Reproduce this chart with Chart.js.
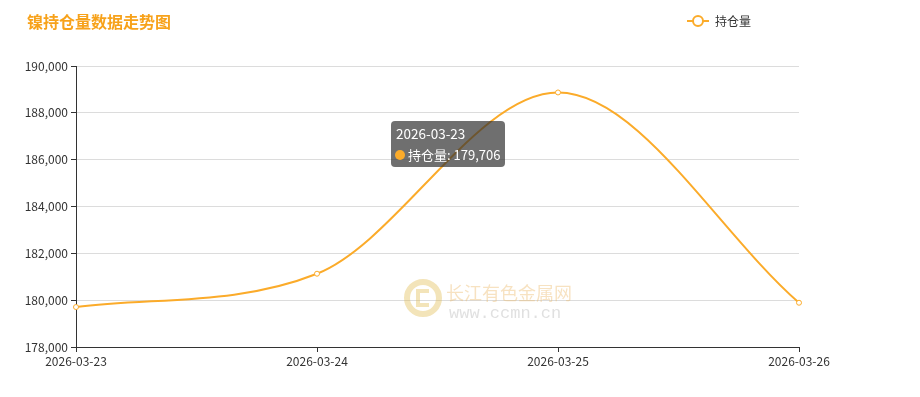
<!DOCTYPE html>
<html><head><meta charset="utf-8">
<script src="https://cdn.jsdelivr.net/npm/chart.js@4"></script>
<style>html,body{margin:0;padding:0;background:#fff}canvas{display:block}</style>
</head><body>
<canvas id="c" width="920" height="397"></canvas>
<script>
const categories = ['2026-03-23','2026-03-24','2026-03-25','2026-03-26'];
const holdings = [179706, 181130, 188870, 179890];
const seriesName = '持仓量';
const titleText = '镍持仓量数据走势图';
const yMin = 178000, yMax = 190000, yStep = 2000;
const tooltipIndex = 0;

const ORANGE = '#fbab2a';
const FONT = '"Noto Sans CJK SC", "Microsoft YaHei", sans-serif';
const fmt = v => v.toLocaleString('en-US');

const overlay = {
  id: 'overlay',
  afterDraw(chart) {
    const ctx = chart.ctx;
    ctx.save();
    // title
    ctx.fillStyle = '#f7a21b';
    ctx.font = 'bold 16px ' + FONT;
    ctx.textBaseline = 'middle';
    ctx.textAlign = 'left';
    ctx.fillText(titleText, 27, 22);
    // legend
    ctx.strokeStyle = ORANGE; ctx.lineWidth = 2;
    ctx.beginPath(); ctx.moveTo(687, 21); ctx.lineTo(709, 21); ctx.stroke();
    ctx.fillStyle = '#fff';
    ctx.beginPath(); ctx.arc(698, 21, 5, 0, Math.PI*2); ctx.fill(); ctx.stroke();
    ctx.fillStyle = '#333'; ctx.font = '12px ' + FONT;
    ctx.fillText(seriesName, 715, 21);
    // watermark
    ctx.globalAlpha = 0.4;
    ctx.strokeStyle = '#e2bc50'; ctx.lineWidth = 6;
    ctx.beginPath(); ctx.arc(423, 298, 16, 0, Math.PI*2); ctx.stroke();
    ctx.lineWidth = 4;
    ctx.beginPath();
    ctx.moveTo(429, 291); ctx.lineTo(418, 291); ctx.lineTo(418, 305); ctx.lineTo(429, 305);
    ctx.stroke();
    ctx.fillStyle = '#eab765'; ctx.font = '18px ' + FONT;
    ctx.fillText('长江有色金属网', 446, 293);
    ctx.globalAlpha = 0.3;
    ctx.fillStyle = '#999'; ctx.font = '17px "Liberation Mono", monospace';
    ctx.fillText('www.ccmn.cn', 449, 313);
    ctx.globalAlpha = 1;
    // tooltip
    const x0 = 391, y0 = 121, w = 114, h = 46;
    ctx.fillStyle = 'rgba(50,50,50,0.7)';
    ctx.beginPath(); ctx.roundRect(x0, y0, w, h, 4); ctx.fill();
    ctx.fillStyle = '#fff'; ctx.font = '13.5px ' + FONT;
    ctx.fillText(categories[tooltipIndex], x0 + 5, y0 + 13);
    ctx.fillStyle = ORANGE;
    ctx.beginPath(); ctx.arc(x0 + 9, y0 + 34, 5, 0, Math.PI*2); ctx.fill();
    ctx.fillStyle = '#fff';
    ctx.font = '13px ' + FONT;
    ctx.fillText(seriesName + ': ' + fmt(holdings[tooltipIndex]), x0 + 17, y0 + 34);
    ctx.restore();
  }
};

new Chart(document.getElementById('c'), {
  type: 'line',
  data: {
    labels: categories,
    datasets: [{
      label: seriesName,
      data: holdings,
      borderColor: ORANGE,
      borderWidth: 2,
      backgroundColor: '#fff',
      pointBackgroundColor: '#fff',
      pointBorderColor: ORANGE,
      pointBorderWidth: 1,
      pointRadius: 2.5,
      cubicInterpolationMode: 'monotone',
      fill: false
    }]
  },
  options: {
    responsive: false,
    animation: false,
    devicePixelRatio: 1,
    layout: { padding: { top: 66, right: 121, bottom: 20, left: 0 } },
    plugins: { legend: { display: false }, title: { display: false }, tooltip: { enabled: false } },
    scales: {
      x: {
        type: 'category',
        offset: false,
        afterFit(s) { s.height = 30; },
        grid: { drawOnChartArea: false, tickColor: '#333', tickLength: 5 },
        border: { color: '#333', width: 1 },
        ticks: { color: '#333', font: { size: 12, family: FONT }, maxRotation: 0, padding: 2 }
      },
      y: {
        min: yMin, max: yMax,
        afterFit(s) { s.width = 76; },
        grid: { color: '#dcdcdc', tickColor: '#333', tickLength: 5 },
        border: { color: '#333', width: 1 },
        ticks: { stepSize: yStep, color: '#333', font: { size: 12, family: FONT }, padding: 3,
                 callback: v => fmt(v) }
      }
    }
  },
  plugins: [overlay]
});
</script>
</body></html>
